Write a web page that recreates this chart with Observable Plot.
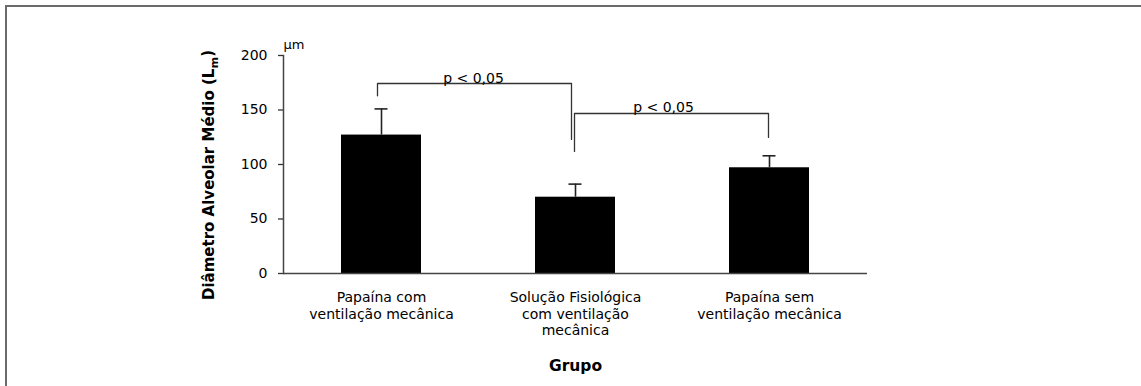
<!DOCTYPE html>
<html><head><meta charset="utf-8">
<script src="https://cdn.jsdelivr.net/npm/d3@7"></script>
<script src="https://cdn.jsdelivr.net/npm/@observablehq/plot@0.6"></script>
<style>
body{margin:0;background:#fff;}
#wrap{position:relative;width:1141px;height:386px;overflow:hidden;}
#wrap svg{position:absolute;left:0;top:0;}
#border{position:absolute;left:5px;top:5px;right:-5px;bottom:-5px;border-top:2px solid #6b6b6b;border-left:2px solid #6b6b6b;}
</style></head><body><div id="wrap"><div id="border"></div></div>
<script>
// Data
const groups = ["Papaína com\nventilação mecânica", "Solução Fisiológica\ncom ventilação\nmecânica", "Papaína sem\nventilação mecânica"];
const means = [127, 70, 97];
const upperErr = [151, 82, 108];
const yTicks = [0, 50, 100, 150, 200];
// significance brackets: left group, right group, left leg bottom, top, right leg bottom
const bracketLeft = [0, 1];
const bracketRight = [1, 2];
const bracketLeftLeg = [163, 112];
const bracketTop = [174.3, 146.8];
const bracketRightLeg = [123, 124.8];
const pLabels = ["p < 0,05", "p < 0,05"];
const yTitle = "Diâmetro Alveolar Médio (Lm)";
const xTitle = "Grupo";
const unitLabel = "µm";

const data = groups.map((g, i) => ({group: g, mean: means[i], upper: upperErr[i]}));
const brackets = bracketLeft.map((l, k) => ({
  points: [
    {group: groups[l], y: bracketLeftLeg[k]},
    {group: groups[l], y: bracketTop[k]},
    {group: groups[bracketRight[k]], y: bracketTop[k]},
    {group: groups[bracketRight[k]], y: bracketRightLeg[k]}
  ],
  label: {group: groups[l], y: bracketTop[k], text: pLabels[k]}
}));
const bracketDx = [-4, -1];
const labelDx = [92, 88];

const ink = "#000";
const chart = Plot.plot({
  width: 1141, height: 386,
  marginLeft: 283, marginRight: 274, marginTop: 55, marginBottom: 113,
  style: {fontFamily: "'DejaVu Sans', sans-serif", fontSize: "14px", background: "transparent", color: ink},
  x: {domain: groups, paddingInner: 0.588, paddingOuter: 0.295, axis: null},
  y: {domain: [0, 200], axis: null},
  marks: [
    Plot.barY(data, {x: "group", y: "mean", fill: "#000"}),
    Plot.ruleX(data, {x: "group", y1: "mean", y2: "upper", stroke: "#222", strokeWidth: 1.6}),
    Plot.tickY(data, {x: "group", y: "upper", insetLeft: 33.5, insetRight: 33.5, stroke: "#222", strokeWidth: 1.6}),
    ...brackets.map((b, k) => Plot.line(b.points, {x: "group", y: "y", dx: bracketDx[k], stroke: "#333", strokeWidth: 1.3, curve: "linear"})),
    ...brackets.map((b, k) => Plot.text([b.label], {x: "group", y: "y", text: "text", dx: labelDx[k], dy: -1, lineAnchor: "bottom", fontSize: 14, fill: ink})),
    Plot.axisY({ticks: yTicks, tickSize: 5, tickPadding: 11, label: null, fontSize: 14, stroke: "#333", strokeWidth: 1.3, fill: ink}),
    Plot.frame({anchor: "left", stroke: "#444", strokeWidth: 1.5}),
    Plot.ruleY([0], {stroke: "#444", strokeWidth: 1.5}),
    Plot.text(data, {x: "group", text: "group", frameAnchor: "bottom", lineAnchor: "top", dy: 17, lineHeight: 1.18, fontSize: 14, fill: ink}),
    Plot.text([xTitle], {frameAnchor: "bottom", dy: 97, fontWeight: "bold", fontSize: 15.5, fill: ink}),
    Plot.text([yTitle], {frameAnchor: "left", textAnchor: "middle", rotate: -90, dx: -74, dy: 10.5, fontWeight: "bold", fontSize: 15, fill: ink}),
    Plot.text([unitLabel], {frameAnchor: "top-left", textAnchor: "start", dx: 0, dy: -16, fontSize: 13, fill: ink})
  ]
});
document.getElementById("wrap").appendChild(chart);

// subscript "m" in the y title
d3.select(chart).selectAll("text").each(function() {
  if (this.textContent === yTitle) {
    const t = d3.select(this);
    t.text(null);
    t.append("tspan").text(yTitle.slice(0, -2));
    t.append("tspan").attr("dy", "0.3em").attr("font-size", "0.75em").text("m");
    t.append("tspan").attr("dy", "-0.3em").text(")");
  }
});
</script>
</body></html>
